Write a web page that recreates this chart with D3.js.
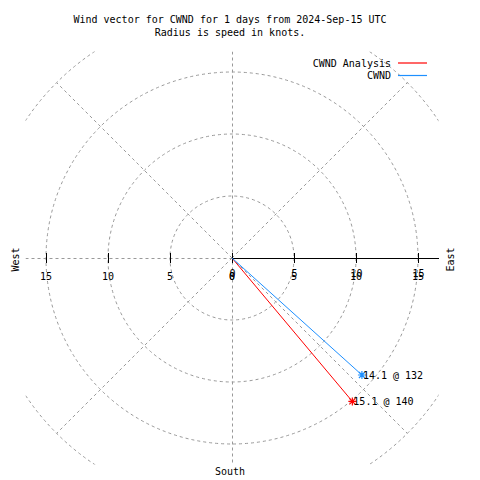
<!DOCTYPE html>
<html><head><meta charset="utf-8">
<script src="https://cdn.jsdelivr.net/npm/d3@7"></script>
<style>
body{margin:0;background:#fff;}
text{font-family:"DejaVu Sans Mono",monospace;font-size:10px;fill:#000;}
</style></head>
<body><svg id="c" width="480" height="480"></svg>
<script>
const titleLines = ["Wind vector for CWND for 1 days from 2024-Sep-15 UTC", "Radius is speed in knots."];
const seriesNames = ["CWND Analysis", "CWND"];
const seriesColors = ["#ff0000", "#1e90ff"];
const speeds = [15.1, 14.1];
const directions = [140, 132];
const ringValues = [5, 10, 15, 20];
const tickValues = [0, 5, 10, 15];
const spokeAngles = [45, 135, 225, 315];
const compassLabels = ["West", "East", "South"];

const svg = d3.select("#c");
const cx = 232, cy = 258;
const r = d3.scaleLinear().domain([0, 20]).range([0, 248]);
const box = 206.5;
const grid = "#999999", dash = "3,3";

svg.append("defs").append("clipPath").attr("id","clip")
  .append("rect").attr("x", cx-box).attr("y", cy-box).attr("width", 2*box).attr("height", 2*box);

const g = svg.append("g").attr("clip-path","url(#clip)");
g.selectAll("circle.ring").data(ringValues).enter().append("circle")
  .attr("cx", cx).attr("cy", cy).attr("r", d => r(d))
  .attr("fill","none").attr("stroke", grid).attr("stroke-dasharray", dash);
g.selectAll("line.spoke").data(spokeAngles).enter().append("line")
  .attr("x1", cx).attr("y1", cy)
  .attr("x2", d => cx + r(20)*Math.sin(d*Math.PI/180))
  .attr("y2", d => cy - r(20)*Math.cos(d*Math.PI/180))
  .attr("stroke", grid).attr("stroke-dasharray", dash);
g.append("line").attr("x1", cx+0.5).attr("x2", cx+0.5).attr("y1", cy-box).attr("y2", cy+box)
  .attr("stroke", grid).attr("stroke-dasharray", dash);
g.append("line").attr("x1", cx-box).attr("x2", cx).attr("y1", cy+0.5).attr("y2", cy+0.5)
  .attr("stroke", grid).attr("stroke-dasharray", dash);
svg.append("line").attr("x1", cx).attr("x2", cx+box).attr("y1", cy+0.5).attr("y2", cy+0.5)
  .attr("stroke", "#000").attr("shape-rendering","crispEdges");

const tickX = [];
tickValues.forEach(v => { tickX.push(cx + r(v)); if (v>0) tickX.push(cx - r(v)); });
svg.selectAll("line.tick").data(tickX).enter().append("line")
  .attr("x1", d => Math.round(d)+0.5).attr("x2", d => Math.round(d)+0.5)
  .attr("y1", cy-5).attr("y2", cy+5).attr("stroke","#000").attr("shape-rendering","crispEdges");

svg.selectAll("text.tl").data(tickValues).enter().append("text")
  .attr("x", d => cx - r(d)).attr("y", 280).attr("text-anchor","middle").text(d => d);
svg.selectAll("text.tr").data(tickValues).enter().append("text")
  .attr("x", d => cx + r(d)).attr("y", 280).attr("text-anchor","middle").text(d => d);
svg.selectAll("text.tr2").data(tickValues).enter().append("text")
  .attr("x", d => cx + r(d) + 0.5).attr("y", 277).attr("text-anchor","middle").text(d => d);

svg.append("text").attr("transform","translate(18.5,259.5) rotate(-90)").attr("text-anchor","middle").text(compassLabels[0]);
svg.append("text").attr("transform","translate(454,259.5) rotate(-90)").attr("text-anchor","middle").text(compassLabels[1]);
svg.append("text").attr("x", 230).attr("y", 475).attr("text-anchor","middle").text(compassLabels[2]);

svg.selectAll("text.title").data(titleLines).enter().append("text")
  .attr("x", 230).attr("y", (d,i) => 23 + i*13).attr("text-anchor","middle").text(d => d);

const vec = speeds.map((s,i) => ({s, d: directions[i], c: seriesColors[i],
  x: cx + r(s)*Math.sin(directions[i]*Math.PI/180),
  y: cy - r(s)*Math.cos(directions[i]*Math.PI/180)}));
svg.selectAll("line.vec").data(vec).enter().append("line")
  .attr("x1", cx).attr("y1", cy).attr("x2", d => d.x).attr("y2", d => d.y)
  .attr("stroke", d => d.c).attr("stroke-width", 1);
vec.forEach(v => {
  const s = 4;
  const p = `M${v.x-s},${v.y}L${v.x+s},${v.y}M${v.x},${v.y-s}L${v.x},${v.y+s}` +
            `M${v.x-3},${v.y-3}L${v.x+3},${v.y+3}M${v.x-3},${v.y+3}L${v.x+3},${v.y-3}`;
  svg.append("path").attr("d", p).attr("stroke", v.c).attr("stroke-width", 1.2).attr("fill","none");
  svg.append("text").attr("x", v.x + 1).attr("y", v.y + 4).text(`${v.s} @ ${v.d}`);
});

const leg = svg.selectAll("g.leg").data(seriesNames).enter().append("g")
  .attr("transform", (d,i) => `translate(0,${63 + i*12.5})`);
leg.append("text").attr("x", 391).attr("y", 3.5).attr("text-anchor","end").text(d => d);
leg.append("line").attr("x1", 398).attr("x2", 427).attr("y1", 0).attr("y2", 0)
  .attr("stroke", (d,i) => seriesColors[i]).attr("stroke-width", 1.2);
</script></body></html>
